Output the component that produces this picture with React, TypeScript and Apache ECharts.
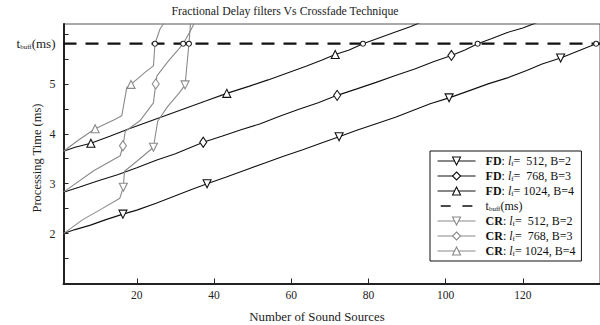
import React, { useEffect, useRef } from 'react';
import * as echarts from 'echarts';

const SERIF = 'Liberation Serif';
const TBUFF = 5.805;
const X_TICKS = [20, 40, 60, 80, 100, 120];
const Y_TICKS = [1.5, 2, 2.5, 3, 3.5, 4, 4.5, 5, 5.5, 6];
const Y_LABELS = [2, 3, 4, 5, TBUFF];

const FD512: [number, number][] = [
  [1, 2.0], [4, 2.08], [8, 2.17], [12, 2.28], [16.4, 2.39], [20, 2.47], [25, 2.61], [30, 2.76],
  [34, 2.88], [38.2, 3.0], [43, 3.13], [48, 3.27], [53, 3.41], [58, 3.55], [63, 3.68], [68, 3.82],
  [72.4, 3.94], [77, 4.07], [82, 4.2], [87, 4.33], [92, 4.48], [96, 4.6], [100.9, 4.72], [106, 4.86],
  [111, 5.0], [116, 5.12], [121, 5.27], [125, 5.4], [129.8, 5.52], [134, 5.65], [139, TBUFF],
];
const FD512_MARKS = [16.4, 38.2, 72.4, 100.9, 129.8];

const FD768: [number, number][] = [
  [1, 2.83], [5, 2.93], [10, 3.06], [15, 3.18], [20, 3.32], [25, 3.47], [30, 3.6], [37.2, 3.83],
  [42, 3.95], [47, 4.08], [52, 4.2], [57, 4.35], [62, 4.49], [67, 4.62], [71.9, 4.77], [77, 4.9],
  [82, 5.03], [87, 5.17], [92, 5.3], [97, 5.45], [101.5, 5.57], [105, 5.68], [108.3, TBUFF],
  [112, 5.91], [116, 6.03], [120, 6.12], [124, 6.24],
];
const FD768_MARKS = [37.2, 71.9, 101.5];

const FD1024: [number, number][] = [
  [1, 3.65], [4, 3.73], [8.1, 3.81], [13, 3.95], [18, 4.1], [23, 4.24], [28, 4.38], [33, 4.52],
  [38, 4.66], [43.3, 4.81], [49, 4.95], [54, 5.08], [59, 5.22], [64, 5.36], [68, 5.48], [71.4, 5.59],
  [75, 5.68], [78.6, TBUFF], [82, 5.9], [87, 6.04], [91, 6.15], [94, 6.25],
];
const FD1024_MARKS = [8.1, 43.3, 71.4];

const CR512: [number, number][] = [
  [1, 2.0], [6, 2.28], [11, 2.5], [15.6, 2.71], [16.5, 2.93], [16.8, 3.25], [20, 3.45], [23.4, 3.67],
  [24.3, 3.73], [25.4, 4.25], [28, 4.55], [31, 4.82], [32.5, 4.98], [33.5, TBUFF], [34, 6.3],
];
const CR512_MARKS = [16.5, 24.3, 32.5];

const CR768: [number, number][] = [
  [1, 2.83], [8.8, 3.26], [15.7, 3.56], [16.4, 3.76], [17, 4.05], [20.8, 4.26], [24.3, 4.62],
  [24.9, 5.0], [25.2, 5.16], [28.2, 5.46], [30.8, 5.69], [32.0, TBUFF], [33.8, 6.05], [35.1, 6.25],
];
const CR768_MARKS = [16.4, 24.9];

const CR1024: [number, number][] = [
  [1, 3.65], [5, 3.88], [9.2, 4.1], [13.9, 4.27], [16.1, 4.36], [17.4, 4.93], [18.5, 4.99],
  [22.1, 5.23], [24.3, 5.36], [24.7, TBUFF], [26, 6.1], [27.3, 6.25],
];
const CR1024_MARKS = [9.2, 18.5];

const TBUFF_LINE: [number, number][] = [[1, TBUFF], [140, TBUFF]];

const LEGEND_TEXT: Record<string, string> = {
  FD512: '{b|FD}: {i|l}{s|f}{n|=  512, B=2}',
  FD768: '{b|FD}: {i|l}{s|f}{n|=  768, B=3}',
  FD1024: '{b|FD}: {i|l}{s|f}{n|= 1024, B=4}',
  tbuff: '{n|t}{s|buff}{n|(ms)}',
  CR512: '{b|CR}: {i|l}{s|f}{n|=  512, B=2}',
  CR768: '{b|CR}: {i|l}{s|f}{n|=  768, B=3}',
  CR1024: '{b|CR}: {i|l}{s|f}{n|= 1024, B=4}',
};

const BLACK = '#111';
const GRAY = '#8a8a8a';

function mkSeries(
  name: string,
  pts: [number, number][],
  marks: number[],
  color: string,
  symbol: string,
  rotate: number,
  size: number | number[],
) {
  return {
    name,
    type: 'line',
    symbol,
    symbolRotate: rotate,
    symbolSize: size,
    showSymbol: true,
    showAllSymbol: true,
    lineStyle: { color, width: 1.1 },
    itemStyle: { color: '#fff', borderColor: color, borderWidth: 1.1 },
    emphasis: { disabled: true },
    data: pts.map(([x, y]) => {
      if (marks.includes(x)) return { value: [x, y] };
      if (y === TBUFF)
        return {
          value: [x, y],
          symbol: 'circle',
          symbolSize: 5,
          symbolRotate: 0,
          itemStyle: { color: '#fff', borderColor: '#222', borderWidth: 1.1 },
        };
      return { value: [x, y], symbol: 'none' };
    }),
  };
}

export default function App() {
  const ref = useRef<HTMLDivElement>(null);
  useEffect(() => {
    if (!ref.current) return;
    const chart = echarts.init(ref.current, undefined, { renderer: 'svg' });
    const smallRich = {
      b: { fontWeight: 'bold', fontFamily: SERIF, fontSize: 12, color: BLACK },
      i: { fontStyle: 'italic', fontFamily: SERIF, fontSize: 12, color: BLACK },
      s: { fontFamily: SERIF, fontSize: 7, color: BLACK, verticalAlign: 'bottom' },
      n: { fontFamily: SERIF, fontSize: 12, color: BLACK },
    };
    chart.setOption({
      animation: false,
      backgroundColor: '#fff',
      textStyle: { fontFamily: SERIF },
      grid: {
        left: 63.5,
        right: -1,
        top: 24,
        bottom: 41.5,
        show: true,
        borderColor: '#555',
        borderWidth: 1,
        containLabel: false,
      },
      xAxis: {
        type: 'value',
        min: 1,
        max: 140,
        axisLine: { show: true, lineStyle: { color: '#222', width: 2 } },
        axisTick: { show: true, inside: true, length: 5, customValues: X_TICKS, lineStyle: { color: '#222' } },
        axisLabel: {
          customValues: X_TICKS,
          fontFamily: SERIF,
          fontSize: 11.5,
          color: '#222',
          margin: 5,
        },
        splitLine: { show: false },
      },
      yAxis: {
        type: 'value',
        min: 1,
        max: 6.2,
        axisLine: { show: true, lineStyle: { color: '#222', width: 2 } },
        axisTick: { show: true, inside: true, length: 5, customValues: Y_TICKS, lineStyle: { color: '#222' } },
        axisLabel: {
          customValues: Y_LABELS,
          fontFamily: SERIF,
          fontSize: 12,
          color: '#222',
          margin: 8,
          formatter: (v: number) => (v === TBUFF ? '{n|t}{s|buff}{n|(ms)}' : String(v)),
          rich: {
            n: { fontFamily: SERIF, fontSize: 13, color: '#222' },
            s: { fontFamily: SERIF, fontSize: 7, color: '#222', verticalAlign: 'bottom' },
          },
        },
        splitLine: { show: false },
      },
      legend: {
        orient: 'vertical',
        left: 430,
        top: 151,
        backgroundColor: '#fff',
        borderColor: '#111',
        borderWidth: 1,
        borderRadius: 0,
        padding: [4, 6, 4, 7],
        itemGap: 3,
        itemWidth: 38,
        itemHeight: 10,
        selectedMode: false,
        lineStyle: { width: 1.1 },
        itemStyle: { borderWidth: 1.1 },
        textStyle: { fontFamily: SERIF, fontSize: 12, color: BLACK, rich: smallRich, padding: [0, 0, 0, 5] },
        formatter: (n: string) => LEGEND_TEXT[n],
        data: [
          'FD512',
          'FD768',
          'FD1024',
          {
            name: 'tbuff',
            icon: 'path://M0,0 L0.1,0 L0,0.1 Z M0,5 H12 V7 H0 Z M26,5 H38 V7 H26 Z M0,12 L0.1,12 L0,11.9 Z',
            itemStyle: { color: BLACK, borderWidth: 0 },
          },
          'CR512',
          'CR768',
          'CR1024',
        ],
      },
      graphic: [
        {
          type: 'text',
          x: 285,
          y: 11,
          style: {
            text: 'Fractional Delay filters Vs Crossfade Technique',
            fontFamily: SERIF,
            fontSize: 11.8,
            fill: '#222',
            textAlign: 'center',
            textVerticalAlign: 'middle',
          },
        },
        {
          type: 'text',
          x: 317,
          y: 317,
          style: {
            text: 'Number of Sound Sources',
            fontFamily: SERIF,
            fontSize: 12.8,
            fill: '#222',
            textAlign: 'center',
            textVerticalAlign: 'middle',
          },
        },
        {
          type: 'text',
          x: 37,
          y: 158,
          rotation: Math.PI / 2,
          style: {
            text: 'Processing Time (ms)',
            fontFamily: SERIF,
            fontSize: 12.5,
            fill: '#222',
            textAlign: 'center',
            textVerticalAlign: 'middle',
          },
        },
      ],
      series: [
        mkSeries('FD512', FD512, FD512_MARKS, BLACK, 'triangle', 180, 8),
        mkSeries('FD768', FD768, FD768_MARKS, BLACK, 'diamond', 0, [7, 10]),
        mkSeries('FD1024', FD1024, FD1024_MARKS, BLACK, 'triangle', 0, 8),
        {
          name: 'tbuff',
          type: 'line',
          symbol: 'none',
          data: TBUFF_LINE,
          lineStyle: { color: BLACK, width: 2.2, type: [13, 9] },
          itemStyle: { color: BLACK },
          emphasis: { disabled: true },
          z: 1,
        },
        mkSeries('CR512', CR512, CR512_MARKS, GRAY, 'triangle', 180, 8),
        mkSeries('CR768', CR768, CR768_MARKS, GRAY, 'diamond', 0, [7, 10]),
        mkSeries('CR1024', CR1024, CR1024_MARKS, GRAY, 'triangle', 0, 8),
      ],
    });
    return () => chart.dispose();
  }, []);
  return <div ref={ref} style={{ width: 600, height: 325, position: 'fixed', left: 0, top: 0 }} />;
}
